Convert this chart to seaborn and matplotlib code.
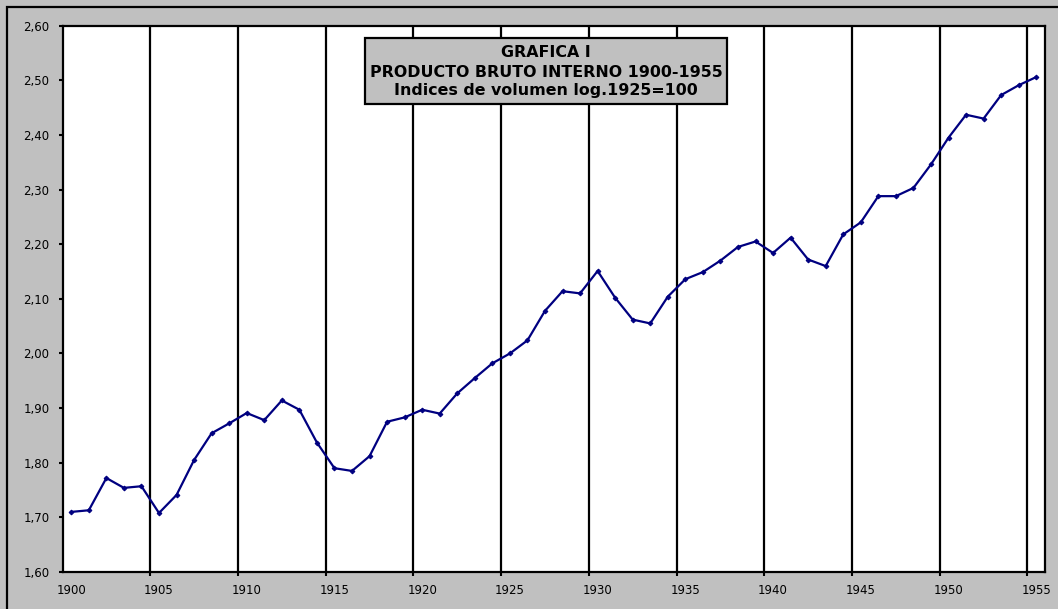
import matplotlib
matplotlib.use("Agg")
import matplotlib.pyplot as plt
import matplotlib.ticker as mticker
from matplotlib.patches import Rectangle
import seaborn as sns
import pandas as pd

years = list(range(1900, 1956))
pbi_log = [1.710, 1.713, 1.772, 1.754, 1.757, 1.708, 1.741, 1.805, 1.854, 1.872,
           1.891, 1.878, 1.914, 1.897, 1.837, 1.790, 1.785, 1.812, 1.875, 1.883,
           1.897, 1.890, 1.927, 1.955, 1.982, 2.000, 2.024, 2.078, 2.114, 2.110,
           2.151, 2.102, 2.062, 2.055, 2.104, 2.136, 2.149, 2.170, 2.195, 2.205,
           2.184, 2.212, 2.172, 2.160, 2.218, 2.240, 2.288, 2.288, 2.303, 2.346,
           2.395, 2.437, 2.430, 2.473, 2.491, 2.506]
year_labels = list(range(1900, 1956, 5))
y_ticks = [1.60, 1.70, 1.80, 1.90, 2.00, 2.10, 2.20, 2.30, 2.40, 2.50, 2.60]
title_lines = ["GRAFICA I", "PRODUCTO BRUTO INTERNO 1900-1955",
               "Indices de volumen log.1925=100"]

df = pd.DataFrame({"Year": years, "PBI": pbi_log})

sns.set_style("white")
plt.rcParams['font.family'] = ['DejaVu Sans']
plt.rcParams['text.color'] = 'black'

W, H = 1058, 609
fig = plt.figure(figsize=(W / 100, H / 100), dpi=100, facecolor="#C0C0C0")
ax = fig.add_axes([62.5 / W, 1 - 572 / H, (1045 - 62.5) / W, (572 - 25.7) / H])
ax.set_facecolor("white")

sns.lineplot(data=df, x="Year", y="PBI", ax=ax, color="#000080", linewidth=1.6,
             marker="D", markersize=2.4, markeredgecolor="#000080", zorder=3)

ax.set_xlim(years[0] - 0.5, years[-1] + 0.5)
ax.set_ylim(y_ticks[0], y_ticks[-1])

# labels at category centres, grid lines / tick marks at the boundaries
ax.set_xticks(year_labels)
ax.set_xticklabels([str(y) for y in year_labels])
ax.set_xticks([y - 0.5 for y in year_labels[1:]], minor=True)
ax.set_yticks(y_ticks)
ax.yaxis.set_major_formatter(mticker.FuncFormatter(lambda v, p: f"{v:.2f}".replace(".", ",")))

ax.tick_params(axis="x", which="major", length=0, pad=8.5, labelsize=8.5, labelcolor="black")
ax.tick_params(axis="x", which="minor", length=3, width=1.5, direction="out", bottom=True, color="black")
ax.tick_params(axis="y", which="major", length=3, width=1.5, direction="out", left=True,
               pad=6.5, labelsize=8.5, colors="black")
ax.grid(False)
ax.grid(which="minor", axis="x", color="black", linewidth=1.6)
ax.set_xlabel("")
ax.set_ylabel("")
for s in ax.spines.values():
    s.set_visible(True)
    s.set_color("black")
    s.set_linewidth(1.6)

# title box
box = Rectangle((365 / W, 1 - 104 / H), 362 / W, 66 / H, transform=fig.transFigure,
                facecolor="#C0C0C0", edgecolor="black", linewidth=1.6, zorder=5, clip_on=False)
ax.add_artist(box)
for txt, ypx in zip(title_lines, [52.7, 72.5, 90.0]):
    fig.text(546 / W, 1 - ypx / H, txt, ha="center", va="center", color="black",
             fontsize=11.4, fontweight="bold", zorder=6)

# outer chart border (top and left visible)
fig.patches.append(Rectangle((7 / W, -0.1), 1.2, 1.1 - 7 / H, transform=fig.transFigure,
                             fill=False, edgecolor="black", linewidth=1.6))

fig.savefig("out.png", dpi=100, facecolor=fig.get_facecolor())
